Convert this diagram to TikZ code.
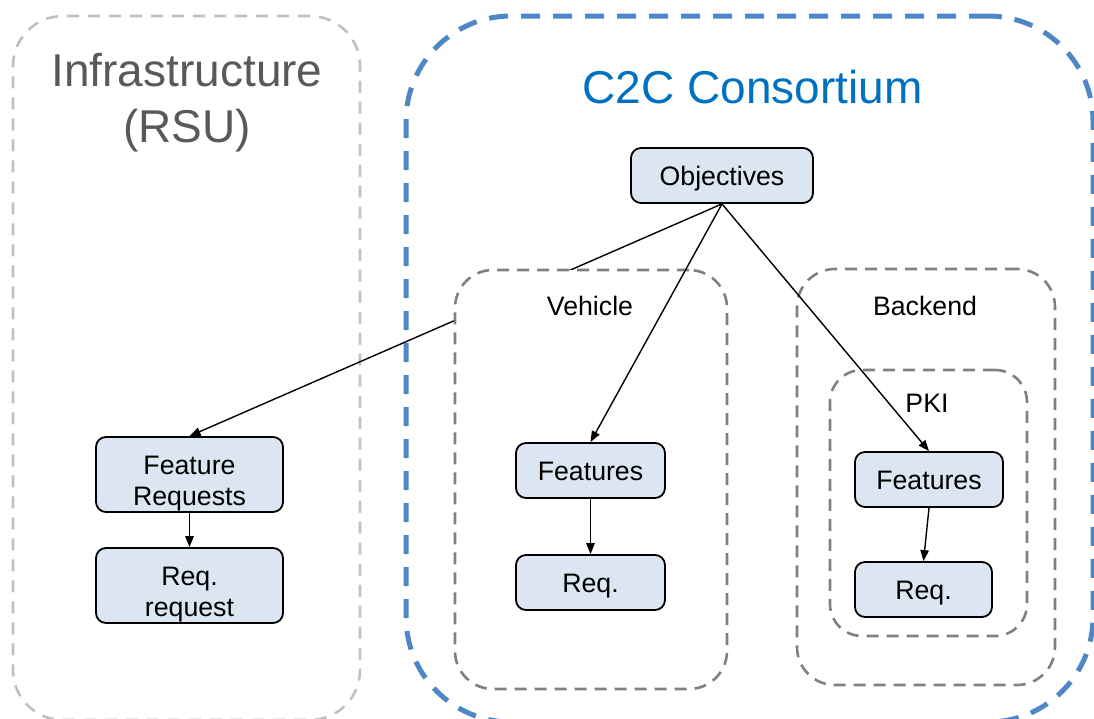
\documentclass[tikz,border=0pt]{standalone}
\usepackage{fontspec}
\setmainfont{Liberation Sans}
\usetikzlibrary{arrows.meta}
\definecolor{boxfill}{RGB}{220,230,242}
\definecolor{c2cblue}{RGB}{79,134,198}
\definecolor{c2ctext}{RGB}{0,112,192}
\definecolor{infratext}{RGB}{89,89,89}
\definecolor{lightdash}{RGB}{192,192,192}
\definecolor{middash}{RGB}{128,128,128}
\begin{document}
\begin{tikzpicture}[x=1pt,y=-1pt,
  block/.style={draw=black, line width=1.8pt, rounded corners=10pt, fill=boxfill,
    inner sep=0pt, align=center, font=\fontsize{26.7}{31}\selectfont},
  cont/.style={draw=middash, line width=2.6pt, dash pattern=on 12pt off 8pt,
    rounded corners=38pt, inner sep=0pt},
  lbl/.style={font=\fontsize{26.7}{30}\selectfont, inner sep=0pt, anchor=base},
  title/.style={font=\fontsize{46}{56}\selectfont, inner sep=0pt, anchor=base},
  arr/.style={-{Triangle[length=11pt,width=8.5pt]}, line width=1.4pt},
]
\useasboundingbox (0,0) rectangle (1094,718);

% outer areas
\node[draw=lightdash, line width=2.6pt, dash pattern=on 12pt off 9pt,
  rounded corners=50pt, inner sep=0pt, minimum width=347pt, minimum height=704pt]
  (infra) at (186.5,368) {};
\node[draw=c2cblue, line width=5pt, dash pattern=on 19pt off 13pt,
  rounded corners=105pt, inner sep=0pt, minimum width=687pt, minimum height=706pt]
  (c2c) at (749.5,369) {};

\node[title, text=infratext] (infraT1) at (187,86) {Infrastructure};
\node[title, text=infratext] (infraT2) at (187,142) {(RSU)};
\node[title, text=c2ctext] (c2cT) at (752.5,103) {C2C Consortium};

% top and infrastructure blocks
\node[block, minimum width=182pt, minimum height=55pt, text height=19pt, text depth=0pt]
  (obj) at (722,175.5) {Objectives};
\node[block, minimum width=187pt, minimum height=75pt] (fr) at (189.5,474.5)
  {\rule{0pt}{37pt}Feature\\Requests};
\node[block, minimum width=187pt, minimum height=75pt] (rr) at (189.5,585.5)
  {\rule{0pt}{36pt}Req.\\request};

\draw[arr] (obj.south) -- (fr.north);
\draw[arr] (fr.south) -- (rr.north);

% containers
\node[cont, fill=white, minimum width=272pt, minimum height=419pt] (veh) at (591,479.5) {};
\node[cont, minimum width=258pt, minimum height=416pt] (back) at (926,477) {};
\node[cont, rounded corners=32pt, minimum width=197pt, minimum height=266pt] (pki) at (928.5,503) {};

\node[lbl] (vehT) at (590,315) {Vehicle};
\node[lbl] (backT) at (925,315) {Backend};
\node[lbl] (pkiT) at (927,412) {PKI};

% inner blocks
\node[block, minimum width=149pt, minimum height=55pt, text height=19pt, text depth=0pt]
  (vf) at (590.5,470.5) {Features};
\node[block, minimum width=149pt, minimum height=55pt, text height=19pt, text depth=0pt]
  (vr) at (590.5,582.5) {Req.};
\node[block, minimum width=148pt, minimum height=55pt, text height=19pt, text depth=0pt]
  (pf) at (929,479.5) {Features};
\node[block, minimum width=137pt, minimum height=55pt, text height=19pt, text depth=0pt]
  (pr) at (923.5,589.5) {Req.};

\draw[arr] (obj.south) -- (vf.north);
\draw[arr] (obj.south) -- (pf.north);
\draw[arr] (vf.south) -- (vr.north);
\draw[arr] (pf.south) -- (pr.north);
\end{tikzpicture}
\end{document}
